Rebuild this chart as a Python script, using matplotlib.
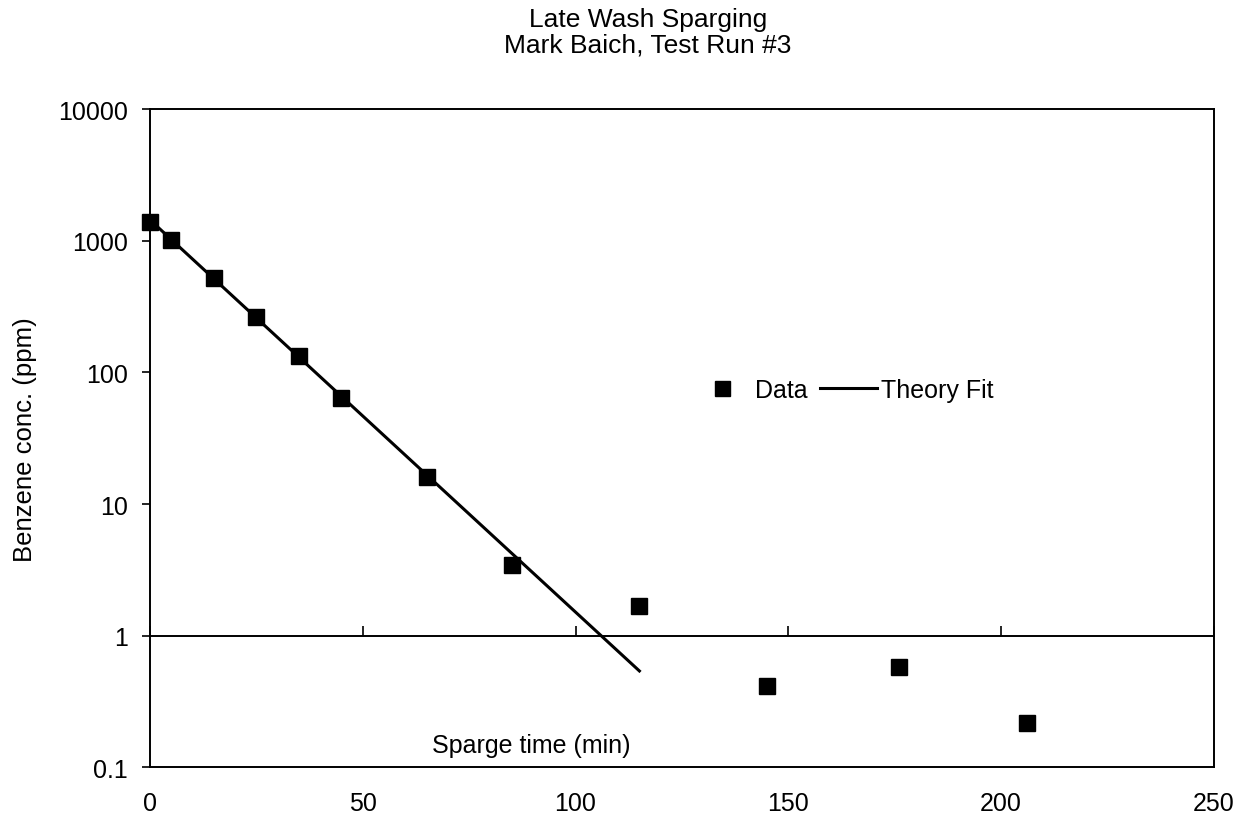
import matplotlib
matplotlib.use("Agg")
import matplotlib.pyplot as plt
import numpy as np

plt.rcParams['font.family'] = ['Liberation Sans', 'DejaVu Sans']
plt.rcParams['font.size'] = 18

# data
sparge_time = [0, 5, 15, 25, 35, 45, 65, 85, 115, 145, 176, 206]
benzene_ppm = [1380, 1018, 518, 262, 134, 63.5, 16.0, 3.44, 1.67, 0.413, 0.575, 0.217]

# theory fit (straight line on the log axis)
fit_time = [0, 115]
fit_ppm = [1440, 0.54]

xticks = [0, 50, 100, 150, 200, 250]
xtick_labels = ['0', '50', '100', '150', '200', '250']
yticks = [0.1, 1, 10, 100, 1000, 10000]
ytick_labels = ['0.1', '1', '10', '100', '1000', '10000']

fig = plt.figure(figsize=(12.58, 8.29), dpi=100)
ax = fig.add_axes([0.1192, 0.0731, 0.8458, 0.7942])

ax.plot(fit_time, fit_ppm, color='black', linewidth=2.2, label='Theory Fit', zorder=2)
ax.plot(sparge_time, benzene_ppm, linestyle='none', marker='s', markersize=12,
        color='black', label='Data', zorder=3, clip_on=False)

ax.set_yscale('log')
ax.set_xlim(0, 250)
ax.set_ylim(0.1, 10000)
ax.set_yticks(yticks)
ax.set_yticklabels(ytick_labels)
ax.yaxis.set_minor_locator(matplotlib.ticker.NullLocator())
ax.set_xticks(xticks)
ax.set_xticklabels(xtick_labels)

ax.tick_params(axis='y', direction='out', length=6, width=1.2, pad=10)
ax.tick_params(axis='x', length=0, pad=17)

for s in ax.spines.values():
    s.set_linewidth(1.4)

# x axis line crosses at y = 1
ymin, ymax = ax.get_ylim()
cross = (np.log10(1) - np.log10(ymin)) / (np.log10(ymax) - np.log10(ymin))
secax = ax.secondary_xaxis(cross)
secax.set_xticks(xticks)
secax.tick_params(direction='in', length=7, width=1.2, labelbottom=False, labeltop=False)
secax.spines['bottom'].set_linewidth(1.4)
secax.spines['top'].set_visible(False)

ax.set_xlabel('Sparge time (min)')
ax.xaxis.set_label_coords(0.358, 0.052)
ax.set_ylabel('Benzene conc. (ppm)', fontsize=18.5)
ax.yaxis.set_label_coords(-0.106, 0.5)

handles, labels = ax.get_legend_handles_labels()
ax.legend(handles[::-1], labels[::-1], ncol=2, frameon=False, loc='center left',
          bbox_to_anchor=(0.511, 0.573), borderpad=0, borderaxespad=0,
          handlelength=2.28, handletextpad=0.16, columnspacing=0.52,
          markerscale=0.9)

fig.text(0.515, 0.99, 'Late Wash Sparging\nMark Baich, Test Run #3',
         ha='center', va='top', linespacing=1.05, fontsize=19)

fig.savefig('out.png', dpi=100)
